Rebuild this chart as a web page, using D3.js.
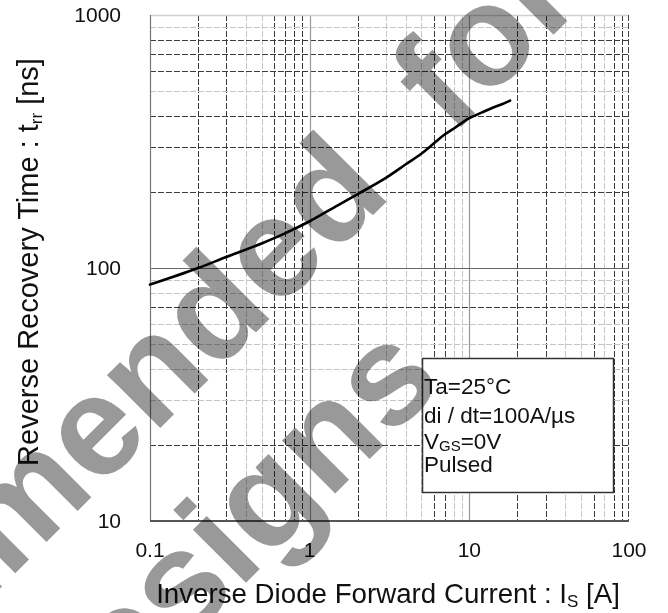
<!DOCTYPE html>
<html>
<head>
<meta charset="utf-8">
<script src="https://cdn.jsdelivr.net/npm/d3@7"></script>
<style>
  html, body { margin: 0; padding: 0; background: #fff; }
  svg { display: block; }
</style>
</head>
<body>
<svg id="chart" width="668" height="613"></svg>
<script>
// ---- data ----
const xTickValues = [0.1, 1, 10, 100];
const xTickLabels = ["0.1", "1", "10", "100"];
const yTickValues = [10, 100, 1000];
const yTickLabels = ["10", "100", "1000"];
const curveIs  = [0.1, 0.2, 0.3, 0.5, 0.7, 1, 1.5, 2, 3, 4, 5, 6, 7, 8, 10, 12, 14, 16, 18];
const curveTrr = [86, 100, 110.5, 125, 137, 153, 177, 196, 227, 257, 283, 311, 337, 356, 391, 412, 430, 444, 459];
const legendLines = ["Ta=25°C", "di / dt=100A/\u00b5s", "V|GS|=0V", "Pulsed"];
const watermarkWords = ["Not recommended", "for", "new designs"];

// ---- layout / style ----
const W = 668, H = 613;
const plot = { left: 150, right: 629, top: 15, bottom: 521 };
const darkV = [0.2, 0.3, 0.6, 0.7, 0.8, 0.9, 2, 6, 7, 20, 30, 60, 80, 90];
const darkH = [20, 70, 200, 300, 400, 600, 700, 800];
const font = "Arial, 'Liberation Sans', Helvetica, sans-serif";

const svg = d3.select("#chart");
svg.append("rect").attr("width", W).attr("height", H).attr("fill", "#fff");

const x = d3.scaleLog().domain([0.1, 100]).range([plot.left, plot.right]);
const y = d3.scaleLog().domain([10, 1000]).range([plot.bottom, plot.top]);

const near = (a, b) => Math.abs(Math.log10(a) - Math.log10(b)) < 1e-6;
const isIn = (v, arr) => arr.some(a => near(a, v));

// minor grid
const grid = svg.append("g");
const xg = x.ticks().filter(v => !xTickValues.some(t => near(t, v)));
const yg = y.ticks().filter(v => !yTickValues.some(t => near(t, v)));

grid.selectAll("line.vx").data(xg).join("line")
  .attr("x1", d => Math.round(x(d)) + 0.5).attr("x2", d => Math.round(x(d)) + 0.5)
  .attr("y1", plot.top).attr("y2", plot.bottom)
  .attr("stroke", d => isIn(d, darkV) ? "#3a3a3a" : "#c4c4c4")
  .attr("stroke-width", 1)
  .attr("stroke-dasharray", "6,2");

grid.selectAll("line.hy").data(yg).join("line")
  .attr("y1", d => Math.round(y(d)) + 0.5).attr("y2", d => Math.round(y(d)) + 0.5)
  .attr("x1", plot.left).attr("x2", plot.right)
  .attr("stroke", d => isIn(d, darkH) ? "#3a3a3a" : "#c4c4c4")
  .attr("stroke-width", 1)
  .attr("stroke-dasharray", "6,2");

// major grid
grid.selectAll("line.mx").data([1, 10]).join("line")
  .attr("x1", d => Math.round(x(d)) + 0.5).attr("x2", d => Math.round(x(d)) + 0.5)
  .attr("y1", plot.top).attr("y2", plot.bottom)
  .attr("stroke", "#999").attr("stroke-width", 1.2);
grid.selectAll("line.my").data([100]).join("line")
  .attr("y1", d => Math.round(y(d)) + 0.5).attr("y2", d => Math.round(y(d)) + 0.5)
  .attr("x1", plot.left).attr("x2", plot.right)
  .attr("stroke", "#666").attr("stroke-width", 1.2);

// borders
grid.append("line").attr("x1", plot.left).attr("x2", plot.right).attr("y1", plot.top + 0.5).attr("y2", plot.top + 0.5)
  .attr("stroke", "#cfcfcf").attr("stroke-width", 1.5);
grid.append("line").attr("x1", plot.right - 0.5).attr("x2", plot.right - 0.5).attr("y1", plot.top).attr("y2", plot.bottom)
  .attr("stroke", "#444").attr("stroke-width", 1).attr("stroke-dasharray", "6,2");
grid.append("line").attr("x1", plot.left + 0.5).attr("x2", plot.left + 0.5).attr("y1", plot.top).attr("y2", plot.bottom)
  .attr("stroke", "#777").attr("stroke-width", 1.2);
grid.append("line").attr("x1", plot.left).attr("x2", plot.right).attr("y1", plot.bottom).attr("y2", plot.bottom)
  .attr("stroke", "#555").attr("stroke-width", 2);

// curve
const line = d3.line().x((d, i) => x(curveIs[i])).y(d => y(d)).curve(d3.curveMonotoneX);
svg.append("path").datum(curveTrr).attr("d", line)
  .attr("fill", "none").attr("stroke", "#000").attr("stroke-width", 2.6)
  .attr("stroke-linecap", "round");

// tick labels
svg.append("g").selectAll("text").data(xTickValues).join("text")
  .attr("x", d => x(d)).attr("y", 557)
  .attr("text-anchor", "middle")
  .attr("font-family", font).attr("font-size", 21).attr("fill", "#111")
  .text((d, i) => xTickLabels[i]);
svg.append("g").selectAll("text").data(yTickValues).join("text")
  .attr("x", 121).attr("y", d => y(d) + 7)
  .attr("text-anchor", "end")
  .attr("font-family", font).attr("font-size", 21).attr("fill", "#111")
  .text((d, i) => yTickLabels[i]);

// axis titles
const yt = svg.append("text")
  .attr("transform", "translate(38,262) rotate(-90)")
  .attr("text-anchor", "middle")
  .attr("font-family", font).attr("font-size", 29).attr("fill", "#111");
yt.append("tspan").text("Reverse Recovery Time : t");
yt.append("tspan").attr("font-size", 17).attr("dy", 4).text("rr");
yt.append("tspan").attr("dy", -4).text(" [ns]");

const xt = svg.append("text")
  .attr("x", 388).attr("y", 603)
  .attr("text-anchor", "middle")
  .attr("font-family", font).attr("font-size", 27.7).attr("fill", "#111");
xt.append("tspan").text("Inverse Diode Forward Current : I");
xt.append("tspan").attr("font-size", 17).attr("dy", 4).text("S");
xt.append("tspan").attr("dy", -4).text(" [A]");

// legend box
const lg = svg.append("g");
lg.append("rect").attr("x", 422.5).attr("y", 358.5).attr("width", 191).attr("height", 134)
  .attr("fill", "#fff").attr("stroke", "#333").attr("stroke-width", 1.5);
const lgBase = [394, 423, 449, 472];
legendLines.forEach((s, i) => {
  const t = lg.append("text").attr("x", 424).attr("y", lgBase[i])
    .attr("font-family", font).attr("font-size", 22.5).attr("fill", "#111");
  const parts = s.split("|");
  if (parts.length === 3) {
    t.append("tspan").text(parts[0]);
    t.append("tspan").attr("font-size", 15).attr("dy", 2).text(parts[1]);
    t.append("tspan").attr("dy", -2).text(parts[2]);
  } else {
    t.text(s);
  }
});

// watermark (multiplied over everything)
const wm = svg.append("g").attr("transform", "rotate(-45)")
  .style("mix-blend-mode", "multiply");
const wmPos = [[140, 416, "end"], [223, 416, "start"], [44, 586, "end"]];
watermarkWords.forEach((s, i) => {
  wm.append("text").attr("x", wmPos[i][0]).attr("y", wmPos[i][1])
    .attr("text-anchor", wmPos[i][2])
    .attr("font-family", "Arial, 'Liberation Sans', sans-serif")
    .attr("font-weight", "bold").attr("font-size", 142)
    .attr("fill", "#999").text(s);
});
</script>
</body>
</html>
